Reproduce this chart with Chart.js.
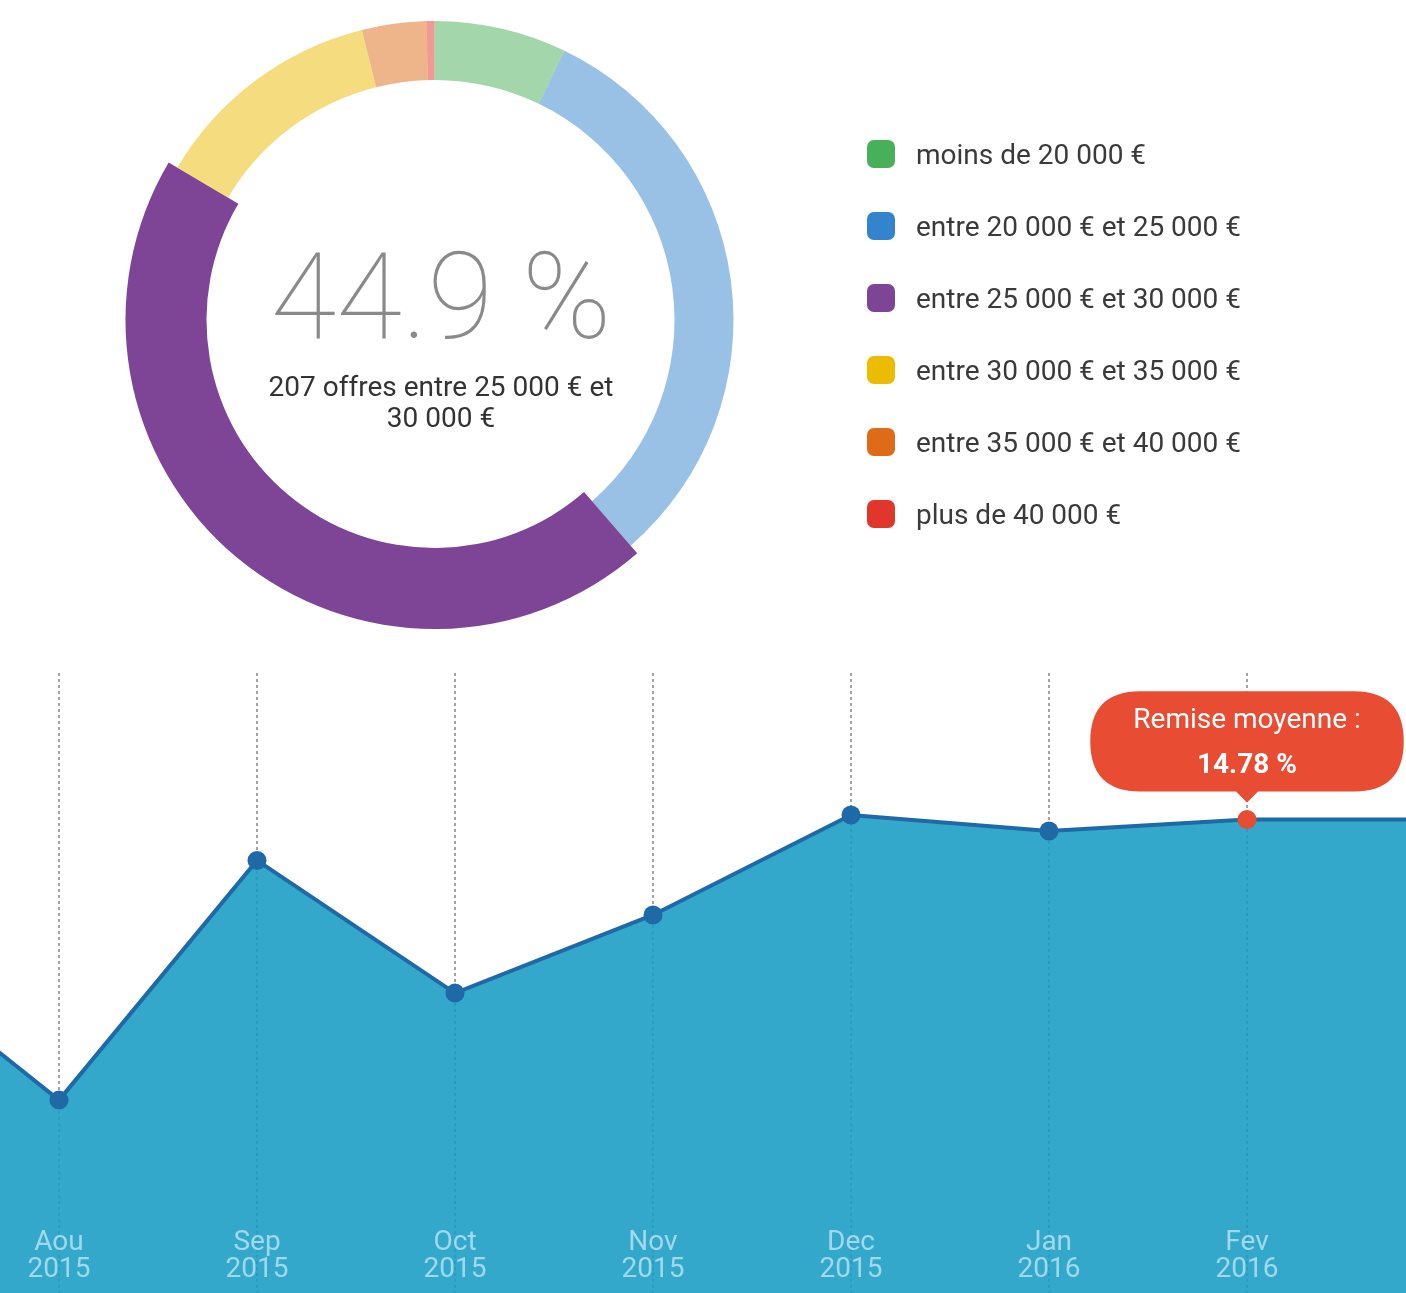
<!DOCTYPE html>
<html>
<head>
<meta charset="utf-8">
<script src="https://cdn.jsdelivr.net/npm/chart.js@4"></script>
<style>
html,body{margin:0;padding:0;background:#fff;}
body{width:1406px;height:1293px;overflow:hidden;position:relative;font-family:Roboto,'Noto Sans',sans-serif;}
#donut{position:absolute;left:0;top:0;}
#line{position:absolute;left:0;top:673px;}
#pct{position:absolute;left:241px;width:400px;top:237px;text-align:center;font-size:120px;line-height:120px;font-weight:100;color:#8a8a8a;white-space:nowrap;}
#sub{position:absolute;left:251px;width:380px;top:371px;text-align:center;font-size:28px;line-height:31px;color:#333;}
#legend{position:absolute;left:867px;top:118px;}
.row{display:flex;align-items:center;height:72px;}
.sw{width:28px;height:28px;border-radius:7px;margin-right:21px;flex:none;}
.row span{font-size:28px;color:#3a3a3a;white-space:nowrap;}
</style>
</head>
<body>
<canvas id="donut" width="869" height="640"></canvas>
<div id="pct"></div>
<div id="sub"></div>
<div id="legend"></div>
<canvas id="line" width="1406" height="620"></canvas>
<script>
// ---- data: salary distribution ----
const salaryRanges = ['moins de 20 000 €', 'entre 20 000 € et 25 000 €', 'entre 25 000 € et 30 000 €', 'entre 30 000 € et 35 000 €', 'entre 35 000 € et 40 000 €', 'plus de 40 000 €'];
const offerCounts = [33, 145, 207, 58, 16, 2];
const rangeColors = ['#47b058', '#3484cd', '#7e4496', '#ecbc00', '#dd6b17', '#e0362b'];
const selectedRange = 2;

// ---- data: average discount per month ----
const monthNames = ['Jul', 'Aou', 'Sep', 'Oct', 'Nov', 'Dec', 'Jan', 'Fev', 'Mar'];
const monthYears = ['2015', '2015', '2015', '2015', '2015', '2015', '2016', '2016', '2016'];
const avgDiscount = [10.95, 6.02, 13.50, 9.36, 11.80, 14.92, 14.42, 14.78, 14.78];
const labeledMonths = [1, 2, 3, 4, 5, 6, 7];
const activeMonth = 7;

Chart.defaults.font.family = 'Roboto';

// ---- doughnut ----
const total = offerCounts.reduce((a, b) => a + b, 0);
document.getElementById('pct').textContent = (offerCounts[selectedRange] / total * 100).toFixed(1) + ' %';
document.getElementById('sub').textContent = offerCounts[selectedRange] + ' offres ' + salaryRanges[selectedRange];

const legendEl = document.getElementById('legend');
salaryRanges.forEach((name, i) => {
  const row = document.createElement('div');
  row.className = 'row';
  const sw = document.createElement('div');
  sw.className = 'sw';
  sw.style.background = rangeColors[i];
  const tx = document.createElement('span');
  tx.textContent = name;
  row.appendChild(sw); row.appendChild(tx);
  legendEl.appendChild(row);
});

const ringGrow = {
  id: 'ringGrow',
  afterDatasetsUpdate(chart) {
    const arc = chart.getDatasetMeta(0).data[selectedRange];
    if (arc) { arc.outerRadius += 10; arc.innerRadius -= 12; }
  }
};

new Chart(document.getElementById('donut'), {
  type: 'doughnut',
  data: {
    labels: salaryRanges,
    datasets: [{
      data: offerCounts,
      backgroundColor: rangeColors.map((c, i) => i === selectedRange ? c : c + '80'),
      borderWidth: 0
    }]
  },
  options: {
    responsive: false,
    animation: false,
    events: [],
    radius: 299,
    cutout: (240 / 299 * 100) + '%',
    plugins: { legend: { display: false }, tooltip: { enabled: false } }
  },
  plugins: [ringGrow]
});

// ---- area line ----
const points = avgDiscount.map((v, i) => ({ x: i, y: v }));
const lineChart = new Chart(document.getElementById('line'), {
  type: 'line',
  data: {
    datasets: [{
      data: points,
      borderColor: '#1f69a6',
      borderWidth: 4,
      backgroundColor: 'rgba(24,156,196,0.88)',
      fill: 'start',
      tension: 0,
      pointRadius: 9.5,
      pointBorderWidth: 0,
      pointBackgroundColor: '#1f69a6',
      pointHoverRadius: 9.5,
      pointHoverBorderWidth: 0,
      pointHoverBackgroundColor: '#e84c33'
    }]
  },
  options: {
    responsive: false,
    animation: false,
    events: [],
    layout: { padding: 0, autoPadding: false },
    scales: {
      x: {
        type: 'linear',
        min: 0.702,
        max: 7.803,
        afterBuildTicks: s => { s.ticks = labeledMonths.map(v => ({ value: v })); },
        grid: { display: true, drawTicks: false, color: '#a3a3a3', lineWidth: 2, z: -1 },
        border: { display: false, dash: [3, 3] },
        ticks: {
          z: 1, padding: -64, maxRotation: 0, autoSkip: false, color: '#a0d9ec',
          font: { size: 28, lineHeight: 27 / 28 },
          callback: v => [monthNames[v], monthYears[v]]
        }
      },
      y: { display: false, min: 0, max: 19.35 }
    },
    plugins: {
      legend: { display: false },
      tooltip: {
        enabled: true,
        yAlign: 'bottom',
        xAlign: 'center',
        backgroundColor: '#e84c33',
        titleColor: '#fff',
        bodyColor: '#fff',
        titleFont: { size: 28, weight: 'normal' },
        bodyFont: { size: 28, weight: 'bold' },
        titleAlign: 'center',
        bodyAlign: 'center',
        displayColors: false,
        padding: { top: 13, bottom: 9, left: 43, right: 43 },
        titleMarginBottom: 11,
        caretSize: 11,
        caretPadding: 17,
        cornerRadius: 50,
        callbacks: {
          title: () => 'Remise moyenne :',
          label: c => c.parsed.y.toFixed(2) + ' %'
        }
      }
    }
  }
});
lineChart.setActiveElements([{ datasetIndex: 0, index: activeMonth }]);
lineChart.tooltip.setActiveElements([{ datasetIndex: 0, index: activeMonth }], { x: 0, y: 0 });
lineChart.update();
</script>
</body>
</html>
